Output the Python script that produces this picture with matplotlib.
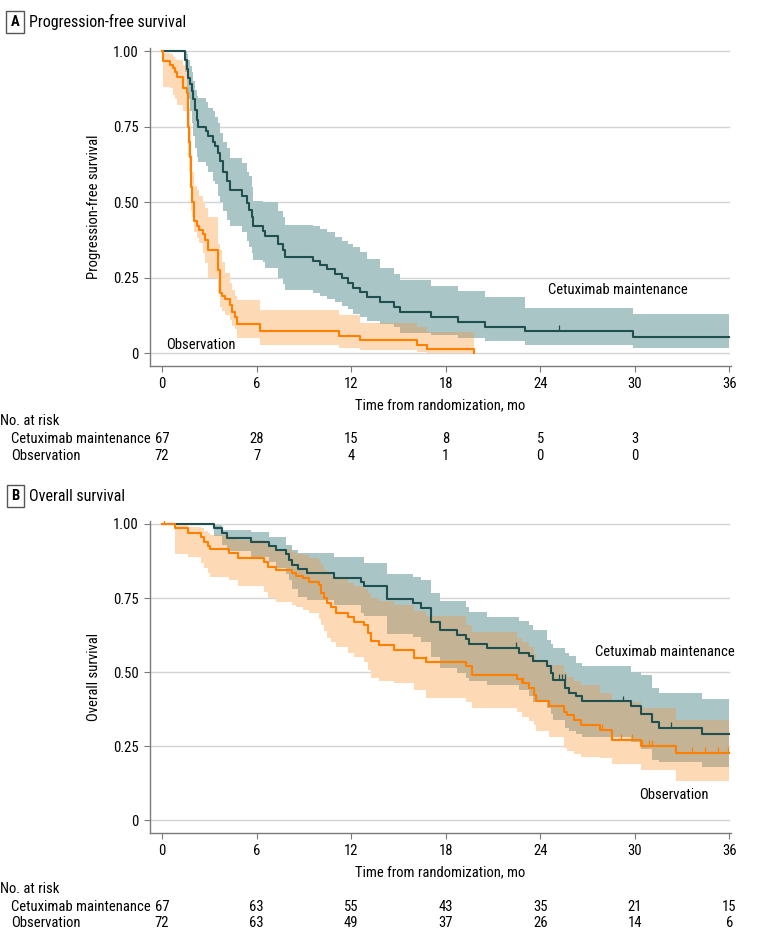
import numpy as np
import matplotlib
matplotlib.use('Agg')
import matplotlib.pyplot as plt
import matplotlib.transforms as mtransforms

plt.rcParams['font.family'] = ['Roboto Condensed', 'Asap Condensed', 'Archivo Narrow', 'DejaVu Sans']

# ---- Panel A: progression-free survival ----
pfs_cet_t = [0, 1.45, 1.57, 1.67, 1.78, 1.88, 1.99, 2.1, 2.2, 2.31, 2.77, 2.94, 3.26, 3.37,
             3.58, 3.68, 3.89, 4.1, 4.32, 5.06, 5.37, 5.52, 5.68, 5.78, 6.43, 6.55, 7.39,
             7.7, 7.8, 9.61, 10.03, 10.46, 10.98, 11.41, 11.83, 12.15, 12.57, 13.0, 13.84,
             14.7, 15.1, 17.06, 18.75, 20.47, 23.05, 29.9, 36.0]
pfs_cet_s = [1.0, 0.97, 0.94, 0.91, 0.89, 0.866, 0.84, 0.806, 0.77, 0.75, 0.734, 0.717, 0.70,
             0.684, 0.662, 0.635, 0.60, 0.57, 0.54, 0.519, 0.497, 0.475, 0.449, 0.42, 0.405,
             0.387, 0.36, 0.34, 0.317, 0.306, 0.292, 0.279, 0.262, 0.248, 0.233, 0.215, 0.202,
             0.186, 0.17, 0.154, 0.135, 0.118, 0.104, 0.087, 0.073, 0.054, 0.054]
pfs_cet_hi = [1.0, 1.0, 0.99, 0.97, 0.95, 0.93, 0.90, 0.87, 0.85, 0.844, 0.83, 0.81, 0.80, 0.78,
              0.76, 0.73, 0.70, 0.68, 0.646, 0.63, 0.60, 0.585, 0.55, 0.502, 0.50, 0.50, 0.47,
              0.45, 0.425, 0.42, 0.41, 0.40, 0.385, 0.37, 0.36, 0.35, 0.335, 0.31, 0.28,
              0.26, 0.242, 0.222, 0.206, 0.186, 0.15, 0.129, 0.129]
pfs_cet_lo = [1.0, 0.93, 0.88, 0.84, 0.80, 0.76, 0.72, 0.68, 0.65, 0.634, 0.62, 0.60, 0.57, 0.56,
              0.52, 0.50, 0.47, 0.44, 0.419, 0.40, 0.37, 0.35, 0.33, 0.309, 0.30, 0.28, 0.248,
              0.23, 0.21, 0.20, 0.19, 0.18, 0.17, 0.155, 0.145, 0.13, 0.12, 0.105, 0.095,
              0.085, 0.066, 0.06, 0.05, 0.04, 0.026, 0.016, 0.016]
pfs_cet_cens = [25.2]

pfs_obs_t = [0, 0.04, 0.51, 0.72, 0.82, 0.93, 1.35, 1.57, 1.62, 1.67, 1.72, 1.77, 1.82, 1.87,
             1.93, 2.05, 2.2, 2.37, 2.62, 2.73, 2.94, 3.58, 3.68, 3.79, 4.0, 4.32, 4.42, 4.63,
             4.78, 6.22, 11.2, 12.57, 16.17, 16.8, 19.77]
pfs_obs_s = [1.0, 0.966, 0.955, 0.944, 0.93, 0.915, 0.876, 0.86, 0.80, 0.75, 0.70, 0.65, 0.60,
             0.55, 0.50, 0.436, 0.42, 0.407, 0.395, 0.375, 0.34, 0.275, 0.199, 0.19, 0.179,
             0.16, 0.136, 0.12, 0.097, 0.072, 0.057, 0.044, 0.028, 0.013, 0.0]
pfs_obs_hi = [1.0, 0.995, 0.99, 0.98, 0.975, 0.97, 0.955, 0.95, 0.90, 0.86, 0.81, 0.76, 0.71,
              0.66, 0.60, 0.552, 0.54, 0.52, 0.50, 0.48, 0.452, 0.36, 0.34, 0.30, 0.265,
              0.232, 0.21, 0.19, 0.176, 0.143, 0.127, 0.10, 0.085, 0.07, 0.07]
pfs_obs_lo = [1.0, 0.88, 0.876, 0.855, 0.84, 0.82, 0.80, 0.76, 0.70, 0.65, 0.60, 0.55, 0.50,
              0.47, 0.45, 0.40, 0.38, 0.364, 0.33, 0.298, 0.25, 0.20, 0.154, 0.14, 0.125,
              0.11, 0.09, 0.08, 0.05, 0.027, 0.017, 0.01, 0.003, 0.0, 0.0]
pfs_obs_cens = []

# ---- Panel B: overall survival ----
os_cet_t = [0, 3.32, 3.8, 4.1, 5.64, 6.8, 7.23, 7.86, 8.07, 8.28, 8.6, 9.23, 10.92, 12.61,
            12.82, 14.26, 15.95, 16.42, 17.05, 17.62, 18.74, 19.27, 19.48, 20.6, 22.65, 23.28,
            23.56, 24.44, 24.66, 24.8, 25.6, 25.82, 26.24, 26.66, 29.73, 30.36, 31.1, 31.52,
            34.27, 36.0]
os_cet_s = [1.0, 0.985, 0.969, 0.952, 0.94, 0.926, 0.912, 0.90, 0.879, 0.862, 0.847, 0.834,
            0.819, 0.805, 0.789, 0.746, 0.732, 0.715, 0.67, 0.643, 0.626, 0.611, 0.596, 0.581,
            0.566, 0.553, 0.536, 0.519, 0.497, 0.472, 0.446, 0.43, 0.418, 0.401, 0.384, 0.36,
            0.33, 0.311, 0.292, 0.292]
os_cet_hi = [1.0, 0.997, 0.98, 0.98, 0.974, 0.957, 0.957, 0.929, 0.929, 0.912, 0.903, 0.903,
             0.89, 0.89, 0.867, 0.831, 0.82, 0.811, 0.766, 0.74, 0.739, 0.72, 0.702, 0.686,
             0.671, 0.66, 0.643, 0.609, 0.595, 0.581, 0.565, 0.553, 0.53, 0.519, 0.502, 0.49,
             0.446, 0.429, 0.409, 0.409]
os_cet_lo = [1.0, 0.96, 0.93, 0.91, 0.89, 0.87, 0.85, 0.83, 0.81, 0.78, 0.755, 0.745, 0.725,
             0.70, 0.69, 0.63, 0.62, 0.60, 0.552, 0.513, 0.496, 0.48, 0.47, 0.455, 0.44, 0.42,
             0.40, 0.38, 0.36, 0.34, 0.31, 0.30, 0.29, 0.28, 0.265, 0.24, 0.205, 0.195, 0.181,
             0.181]
os_cet_cens = [22.44, 25.18, 25.39, 25.56, 29.26, 32.3]

os_obs_t = [0, 0.85, 1.63, 2.47, 2.68, 2.89, 3.04, 4.23, 4.8, 6.49, 6.7, 7.23, 8.28, 8.49, 8.92,
            9.34, 9.97, 10.08, 10.29, 10.5, 10.71, 11.03, 11.77, 12.19, 12.82, 13.04, 13.25,
            13.78, 14.73, 15.99, 16.73, 19.27, 19.69, 22.54, 22.86, 23.28, 23.6, 23.7, 24.55,
            25.5, 25.71, 26.13, 26.56, 27.82, 28.56, 30.36, 32.62, 36.0]
os_obs_s = [1.0, 0.985, 0.97, 0.957, 0.94, 0.924, 0.915, 0.901, 0.884, 0.873, 0.856, 0.845,
            0.834, 0.825, 0.817, 0.805, 0.794, 0.766, 0.749, 0.732, 0.721, 0.701, 0.687, 0.67,
            0.659, 0.631, 0.606, 0.592, 0.575, 0.547, 0.533, 0.519, 0.491, 0.476, 0.463,
            0.446, 0.423, 0.401, 0.384, 0.367, 0.355, 0.339, 0.322, 0.305, 0.271, 0.251,
            0.226, 0.226]
os_obs_hi = [1.0, 1.0, 0.99, 0.985, 0.975, 0.97, 0.963, 0.955, 0.945, 0.935, 0.924, 0.915,
             0.907, 0.90, 0.895, 0.885, 0.875, 0.86, 0.845, 0.835, 0.825, 0.815, 0.80, 0.79,
             0.78, 0.766, 0.75, 0.74, 0.725, 0.705, 0.69, 0.66, 0.637, 0.615, 0.60, 0.585,
             0.56, 0.542, 0.525, 0.50, 0.485, 0.47, 0.455, 0.429, 0.40, 0.38, 0.339, 0.339]
os_obs_lo = [1.0, 0.90, 0.89, 0.867, 0.85, 0.835, 0.822, 0.811, 0.789, 0.77, 0.749, 0.738,
             0.725, 0.721, 0.71, 0.70, 0.68, 0.66, 0.64, 0.614, 0.60, 0.586, 0.566, 0.55,
             0.535, 0.507, 0.479, 0.47, 0.462, 0.44, 0.412, 0.40, 0.38, 0.367, 0.35, 0.335,
             0.322, 0.30, 0.28, 0.243, 0.235, 0.225, 0.215, 0.209, 0.19, 0.17, 0.131, 0.131]
os_obs_cens = [0.15, 16.73, 22.9, 23.6, 23.7, 25.5, 27.82, 27.93, 29.09, 29.83, 30.47, 30.89,
               31.1, 33.63, 34.44, 35.28, 35.92]

risk_times = [0, 6, 12, 18, 24, 30, 36]
pfs_risk_cet = ['67', '28', '15', '8', '5', '3', '']
pfs_risk_obs = ['72', '7', '4', '1', '0', '0', '']
os_risk_cet = ['67', '63', '55', '43', '35', '21', '15']
os_risk_obs = ['72', '63', '49', '37', '26', '14', '6']

C_DARK = '#1f4f4f'
C_ORANGE = '#ff7f00'
C_TEAL_BAND = '#aac5c5'
C_ORANGE_BAND = '#fdd9b5'
C_OVERLAP = '#c4b495'
C_GRID = '#d4d4d4'
C_SPINE = '#7a7a7a'
FS = 10.5


def step_eval(t, v, x):
    # value of a right-continuous step curve at x, nan outside its band range
    t = np.asarray(t)
    v = np.asarray(v, dtype=float)
    idx = np.searchsorted(t, x, side='right') - 1
    out = v[np.clip(idx, 0, len(v) - 1)]
    out[(x < t[1]) | (x >= t[-1])] = np.nan
    return out


def band(ax, t, lo, hi, color):
    ax.fill_between(t[1:], lo[1:], hi[1:], step='post', color=color, lw=0, zorder=1)


def overlap(ax, t1, lo1, hi1, t2, lo2, hi2):
    grid = np.unique(np.concatenate([t1, t2]))
    mids = (grid[:-1] + grid[1:]) / 2
    l1, l2 = step_eval(t1, lo1, mids), step_eval(t2, lo2, mids)
    lo = np.fmax(l1, l2)
    hi = np.fmin(step_eval(t1, hi1, mids), step_eval(t2, hi2, mids))
    lo[np.isnan(l1) | np.isnan(l2)] = np.nan
    for a, b, l, h in zip(grid[:-1], grid[1:], lo, hi):
        if np.isnan(l) or np.isnan(h) or h <= l:
            continue
        ax.fill_between([a, b], [l, l], [h, h], color=C_OVERLAP, lw=0, zorder=2)


def censor(ax, t, s, cens, color):
    if not cens:
        return
    idx = np.searchsorted(np.asarray(t), cens, side='right') - 1
    ys = np.asarray(s)[idx]
    ax.vlines(cens, ys, ys + 0.02, color=color, lw=0.9, zorder=4)


def setup_axes(ax, ylabel):
    ax.set_xlim(-0.76, 36.1)
    ax.set_ylim(-0.043, 1.01)
    ax.set_xticks(risk_times)
    ax.set_yticks([0, 0.25, 0.5, 0.75, 1.0])
    ax.set_yticklabels(['0', '0.25', '0.50', '0.75', '1.00'])
    for y in [0, 0.25, 0.5, 0.75, 1.0]:
        ax.axhline(y, xmin=0, xmax=(36 + 0.76) / 36.86, color=C_GRID, lw=1.0, zorder=0)
    for side in ['top', 'right']:
        ax.spines[side].set_visible(False)
    for side in ['left', 'bottom']:
        ax.spines[side].set_color(C_SPINE)
        ax.spines[side].set_linewidth(1.0)
    ax.tick_params(direction='out', length=4, color=C_SPINE, labelsize=FS, pad=4)
    ax.set_xlabel('Time from randomization, mo', fontsize=FS, labelpad=5)
    ax.set_ylabel(ylabel, fontsize=FS)
    ax.yaxis.set_label_coords(-0.084, 0.5)


def risk_table(fig, ax, y_head, y1, y2, cet, obs):
    tr = mtransforms.blended_transform_factory(ax.transData, fig.transFigure)
    fig.text(0.0, y_head, 'No. at risk', fontsize=FS, va='center')
    fig.text(11 / 780, y1, 'Cetuximab maintenance', fontsize=FS, va='center')
    fig.text(11 / 780, y2, 'Observation', fontsize=FS, va='center')
    for x, a, b in zip(risk_times, cet, obs):
        ax.text(x, y1, a, transform=tr, ha='center', va='center', fontsize=FS)
        ax.text(x, y2, b, transform=tr, ha='center', va='center', fontsize=FS)


def panel(ax, cet, obs, ylabel):
    ct, cs, clo, chi = [np.asarray(a, dtype=float) for a in cet[:4]]
    ot, os_, olo, ohi = [np.asarray(a, dtype=float) for a in obs[:4]]
    band(ax, ct, clo, chi, C_TEAL_BAND)
    band(ax, ot, olo, ohi, C_ORANGE_BAND)
    overlap(ax, ct, clo, chi, ot, olo, ohi)
    ax.step(ct, cs, where='post', color=C_DARK, lw=1.5, zorder=3)
    ax.step(ot, os_, where='post', color=C_ORANGE, lw=1.5, zorder=3)
    censor(ax, ct, cs, cet[4], C_DARK)
    censor(ax, ot, os_, obs[4], C_ORANGE)
    setup_axes(ax, ylabel)


fig = plt.figure(figsize=(7.8, 9.3), dpi=100)

axA = fig.add_axes([150 / 780, 1 - 366 / 930, 581 / 780, 318 / 930])
panel(axA,
      (pfs_cet_t, pfs_cet_s, pfs_cet_lo, pfs_cet_hi, pfs_cet_cens),
      (pfs_obs_t, pfs_obs_s, pfs_obs_lo, pfs_obs_hi, pfs_obs_cens),
      'Progression-free survival')
axA.text(24.5, 0.21, 'Cetuximab maintenance', fontsize=FS, va='center')
axA.text(0.25, 0.027, 'Observation', fontsize=FS, va='center')

axB = fig.add_axes([150 / 780, 1 - 833 / 930, 581 / 780, 312 / 930])
panel(axB,
      (os_cet_t, os_cet_s, os_cet_lo, os_cet_hi, os_cet_cens),
      (os_obs_t, os_obs_s, os_obs_lo, os_obs_hi, os_obs_cens),
      'Overall survival')
axB.text(27.5, 0.568, 'Cetuximab maintenance', fontsize=FS, va='center')
axB.text(30.3, 0.086, 'Observation', fontsize=FS, va='center')

box = dict(boxstyle='square,pad=0.3', fc='white', ec='#555555', lw=1.0)
fig.text(15 / 780, 1 - 22 / 930, 'A', fontsize=10.5, fontweight='bold', ha='center',
         va='center', bbox=box)
fig.text(29 / 780, 1 - 22 / 930, 'Progression-free survival', fontsize=11.5, va='center')
fig.text(15 / 780, 1 - 496 / 930, 'B', fontsize=10.5, fontweight='bold', ha='center',
         va='center', bbox=box)
fig.text(29 / 780, 1 - 496 / 930, 'Overall survival', fontsize=11.5, va='center')

risk_table(fig, axA, 1 - 421 / 930, 1 - 439 / 930, 1 - 456 / 930, pfs_risk_cet, pfs_risk_obs)
risk_table(fig, axB, 1 - 889 / 930, 1 - 907 / 930, 1 - 923 / 930, os_risk_cet, os_risk_obs)

fig.savefig('out.png', dpi=100)
